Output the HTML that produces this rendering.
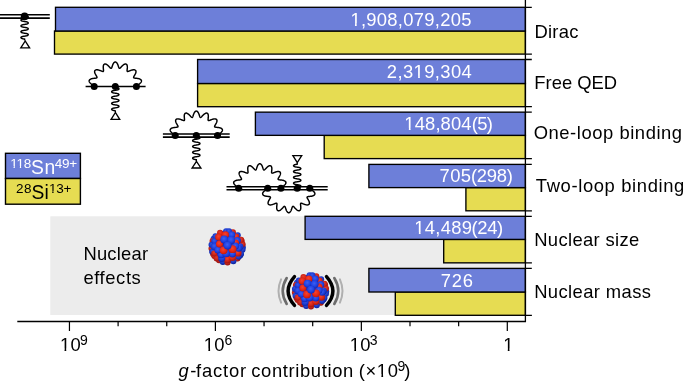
<!DOCTYPE html>
<html><head><meta charset="utf-8"><title>g-factor contributions</title>
<style>html,body{margin:0;padding:0;background:#fff;width:685px;height:382px;overflow:hidden;font-family:"Liberation Sans",sans-serif}</style></head>
<body>
<svg width="685" height="382" viewBox="0 0 685 382" style="position:absolute;left:0;top:0;will-change:transform">
<defs>
<radialGradient id="gb" cx="0.45" cy="0.38" r="0.65"><stop offset="0" stop-color="#3d5ff2"/><stop offset="0.6" stop-color="#1f41e2"/><stop offset="1" stop-color="#0f27b4"/></radialGradient>
<radialGradient id="gr" cx="0.45" cy="0.38" r="0.65"><stop offset="0" stop-color="#f5432e"/><stop offset="0.6" stop-color="#e62614"/><stop offset="1" stop-color="#b8180c"/></radialGradient>
<radialGradient id="gs" cx="0.5" cy="0.45" r="0.55"><stop offset="0.6" stop-color="#000020" stop-opacity="0"/><stop offset="1" stop-color="#000020" stop-opacity="0.25"/></radialGradient>
<clipPath id="nc"><circle cx="13.09" cy="8.67" r="3.0"/><circle cx="-15.61" cy="1.71" r="3.0"/><circle cx="-13.49" cy="-8.04" r="3.0"/><circle cx="-13.99" cy="7.13" r="3.0"/><circle cx="15.69" cy="0.53" r="3.0"/><circle cx="-14.56" cy="-5.86" r="3.0"/><circle cx="-14.94" cy="4.83" r="3.0"/><circle cx="-15.57" cy="-1.98" r="3.0"/><circle cx="14.60" cy="-5.78" r="3.0"/><circle cx="10.34" cy="11.82" r="3.0"/><circle cx="15.42" cy="2.97" r="3.0"/><circle cx="15.51" cy="-2.43" r="3.0"/><circle cx="-12.74" cy="9.18" r="3.0"/><circle cx="10.62" cy="-11.56" r="3.0"/><circle cx="6.25" cy="14.40" r="3.0"/><circle cx="-11.66" cy="-10.52" r="3.0"/><circle cx="-8.06" cy="13.47" r="3.0"/><circle cx="13.95" cy="7.21" r="3.0"/><circle cx="-0.96" cy="-15.67" r="3.0"/><circle cx="-4.30" cy="15.10" r="3.0"/><circle cx="0.48" cy="15.69" r="3.0"/><circle cx="-7.06" cy="-14.02" r="3.0"/><circle cx="14.00" cy="-7.10" r="3.0"/><circle cx="-10.45" cy="11.72" r="3.0"/><circle cx="5.81" cy="-14.58" r="3.0"/><circle cx="1.87" cy="-15.59" r="3.0"/><circle cx="11.60" cy="10.00" r="3.0"/><circle cx="-12.90" cy="6.60" r="3.0"/><circle cx="-12.90" cy="-5.70" r="3.0"/><circle cx="9.10" cy="-10.40" r="3.0"/><circle cx="-8.50" cy="-9.80" r="3.5"/><circle cx="0.30" cy="12.90" r="3.5"/><circle cx="-12.90" cy="-0.20" r="3.5"/><circle cx="12.90" cy="0.00" r="3.5"/><circle cx="4.70" cy="-12.00" r="3.5"/><circle cx="-5.40" cy="11.70" r="3.5"/><circle cx="11.00" cy="6.30" r="3.5"/><circle cx="-1.60" cy="-12.00" r="3.5"/><circle cx="10.30" cy="-6.30" r="3.5"/><circle cx="5.30" cy="10.70" r="3.5"/><circle cx="11.60" cy="1.40" r="3.5"/><circle cx="-6.00" cy="7.90" r="3.5"/><circle cx="-9.20" cy="3.20" r="3.5"/><circle cx="8.50" cy="-3.80" r="3.5"/><circle cx="5.30" cy="7.10" r="3.5"/><circle cx="8.50" cy="-0.70" r="3.5"/><circle cx="-7.60" cy="-2.90" r="3.5"/><circle cx="-2.90" cy="-7.30" r="3.9"/><circle cx="4.10" cy="-6.60" r="3.9"/><circle cx="-1.00" cy="6.60" r="3.9"/><circle cx="5.50" cy="2.40" r="3.9"/><circle cx="-3.50" cy="3.50" r="3.9"/><circle cx="0.50" cy="-1.30" r="3.9"/></clipPath>
</defs>
<rect x="0" y="0" width="685" height="382" fill="#fff"/>
<rect x="50.3" y="216.3" width="475" height="98.7" fill="#ececec"/>
<rect x="54.5" y="31.0" width="470.9" height="23.1" fill="#e6dc52" stroke="#000" stroke-width="1.35"/>
<rect x="55.5" y="7.3" width="469.9" height="23.7" fill="#6d7fd9" stroke="#000" stroke-width="1.35"/>
<path d="M525.4 7.3H531.8M525.4 54.15H531.9" stroke="#000" stroke-width="1.35" fill="none"/>
<rect x="197.6" y="83.5" width="327.8" height="23.2" fill="#e6dc52" stroke="#000" stroke-width="1.35"/>
<rect x="197.6" y="59.5" width="327.8" height="24.0" fill="#6d7fd9" stroke="#000" stroke-width="1.35"/>
<path d="M525.4 59.5H531.8M525.4 106.65H531.9" stroke="#000" stroke-width="1.35" fill="none"/>
<rect x="324.2" y="135.4" width="201.2" height="23.2" fill="#e6dc52" stroke="#000" stroke-width="1.35"/>
<rect x="255.4" y="112.15" width="270.0" height="23.2" fill="#6d7fd9" stroke="#000" stroke-width="1.35"/>
<path d="M525.4 112.15H531.8M525.4 158.6H531.9" stroke="#000" stroke-width="1.35" fill="none"/>
<rect x="465.9" y="187.6" width="59.5" height="23.2" fill="#e6dc52" stroke="#000" stroke-width="1.35"/>
<rect x="368.9" y="164.4" width="156.5" height="23.2" fill="#6d7fd9" stroke="#000" stroke-width="1.35"/>
<path d="M525.4 164.4H531.8M525.4 210.8H531.9" stroke="#000" stroke-width="1.35" fill="none"/>
<rect x="443.7" y="239.45" width="81.7" height="23.4" fill="#e6dc52" stroke="#000" stroke-width="1.35"/>
<rect x="305.1" y="216.3" width="220.3" height="23.1" fill="#6d7fd9" stroke="#000" stroke-width="1.35"/>
<path d="M525.4 216.3H531.8M525.4 262.9H531.9" stroke="#000" stroke-width="1.35" fill="none"/>
<rect x="395.3" y="292.0" width="130.1" height="23.3" fill="#e6dc52" stroke="#000" stroke-width="1.35"/>
<rect x="368.9" y="268.4" width="156.5" height="23.6" fill="#6d7fd9" stroke="#000" stroke-width="1.35"/>
<path d="M525.4 268.4H531.8M525.4 315.3H531.9" stroke="#000" stroke-width="1.35" fill="none"/>
<path d="M525.4 0V321.5" stroke="#000" stroke-width="1.3" fill="none"/>
<path d="M17.3 321.5H526.05" stroke="#000" stroke-width="1.3" fill="none"/>
<path d="M69.45 321.5v9.4M118.10 321.5v4.8M166.75 321.5v4.8M215.40 321.5v9.4M264.05 321.5v4.8M312.70 321.5v4.8M361.35 321.5v9.4M410.00 321.5v4.8M458.65 321.5v4.8M507.30 321.5v9.4" stroke="#000" stroke-width="1.2" fill="none"/>
<path d="M0 14.8H49.8M0 18.1H49.8" stroke="#000" stroke-width="1.55" fill="none" stroke-linejoin="miter" stroke-linecap="butt"/>
<path d="M27.66 16.40L27.86 16.52L28.02 16.66L28.14 16.80L28.21 16.94L28.25 17.09L28.24 17.23L28.18 17.38L28.09 17.52L27.95 17.66L27.77 17.78L27.55 17.91L27.30 18.02L27.01 18.12L26.70 18.21L26.36 18.29L26.00 18.37L25.62 18.43L25.23 18.50L24.83 18.55L24.43 18.61L24.03 18.67L23.64 18.73L23.26 18.80L22.90 18.87L22.56 18.95L22.24 19.04L21.95 19.14L21.69 19.25L21.46 19.37L21.28 19.50L21.13 19.63L21.03 19.77L20.97 19.92L20.95 20.06L20.98 20.21L21.05 20.36L21.16 20.50L21.31 20.63L21.51 20.76L21.74 20.87L22.00 20.98L22.30 21.08L22.62 21.17L22.97 21.25L23.34 21.32L23.72 21.38L24.12 21.44L24.51 21.50L24.91 21.56L25.31 21.62L25.70 21.68L26.07 21.75L26.43 21.82L26.76 21.91L27.07 22.00L27.35 22.10L27.60 22.22L27.81 22.34L27.98 22.47L28.11 22.61L28.20 22.75L28.24 22.90L28.25 23.04L28.20 23.19L28.12 23.33L27.99 23.47L27.82 23.60L27.61 23.72L27.37 23.84L27.09 23.94L26.78 24.04L26.45 24.12L26.09 24.20L25.72 24.27L25.33 24.33L24.94 24.39L24.54 24.45L24.14 24.50L23.75 24.56L23.36 24.63L22.99 24.70L22.64 24.78L22.32 24.87L22.02 24.96L21.75 25.07L21.52 25.19L21.32 25.31L21.17 25.45L21.05 25.59L20.98 25.73L20.95 25.88L20.97 26.02L21.02 26.17L21.13 26.31L21.27 26.45L21.45 26.57L21.67 26.69L21.93 26.80L22.22 26.90L22.54 26.99L22.88 27.08L23.24 27.15L23.62 27.22L24.01 27.28L24.41 27.34L24.81 27.39L25.21 27.45L25.60 27.51L25.98 27.58L26.34 27.65L26.68 27.74L27.00 27.83L27.28 27.93L27.54 28.04L27.76 28.16L27.94 28.29L28.08 28.42L28.18 28.56L28.24 28.71L28.25 28.86L28.22 29.00L28.14 29.15L28.03 29.29L27.87 29.42L27.67 29.54L27.44 29.66L27.17 29.77L26.87 29.86L26.54 29.95L26.19 30.03L25.82 30.10L25.44 30.16L25.04 30.22L24.64 30.28L24.24 30.34L23.85 30.40L23.46 30.46L23.09 30.53L22.73 30.61L22.40 30.69L22.10 30.79L21.82 30.89L21.58 31.01L21.37 31.13L21.20 31.26L21.08 31.40L20.99 31.54L20.95 31.69L20.96 31.83L21.00 31.98L21.09 32.12L21.23 32.26L21.40 32.39L21.61 32.51L21.86 32.63L22.14 32.73L22.45 32.82L22.79 32.91L23.14 32.98L23.52 33.05L23.91 33.11L24.30 33.17L24.70 33.23L25.10 33.29L25.50 33.35L25.88 33.41L26.25 33.48L26.59 33.56L26.92 33.65L27.21 33.75L27.47 33.86L27.70 33.98L27.89 34.10L28.05 34.24L28.16 34.38L28.23 34.52L28.25 34.67L28.23 34.81L28.17 34.96L28.06 35.10L27.91 35.23L27.73 35.36L27.50 35.48L27.24 35.59L26.95 35.69L26.63 35.78L26.28 35.86L25.92 35.93L25.54 36.00L25.15 36.06L24.75 36.12L24.35 36.17L23.95 36.23L23.56 36.29L23.18 36.36L22.82 36.44L22.49 36.52L22.17 36.61L21.89 36.71L21.64 36.83L21.42 36.95L21.24 37.08L21.11 37.21L21.01 37.35L20.96 37.50L20.95 37.65L20.99 37.79L21.07 37.94L21.19 38.07L21.35 38.21L21.55 38.33L21.79 38.45L22.06 38.55L22.37 38.65L22.70 38.73L23.05 38.81L23.42 38.88L23.81 38.95L24.20 39.00L24.60 39.06L24.60 40.60" stroke="#000" stroke-width="1.45" fill="none" stroke-linejoin="miter" stroke-linecap="butt"/>
<path d="M25.20 41.00L20.80 47.90H29.60Z" stroke="#000" stroke-width="1.35" fill="#fff" stroke-linejoin="miter" stroke-linecap="butt"/>
<circle cx="24.6" cy="16.4" r="3.85" fill="#000"/>
<path d="M85.6 86.5H145.6" stroke="#000" stroke-width="1.6" fill="none" stroke-linejoin="miter" stroke-linecap="butt"/>
<path d="M94.40 86.50L94.37 86.32L94.28 86.14L94.12 85.95L93.92 85.76L93.66 85.55L93.35 85.34L93.01 85.11L92.64 84.87L92.24 84.61L91.84 84.34L91.43 84.05L91.03 83.74L90.65 83.43L90.29 83.10L89.97 82.76L89.70 82.41L89.47 82.06L89.30 81.71L89.19 81.36L89.15 81.02L89.18 80.68L89.27 80.37L89.43 80.07L89.65 79.79L89.94 79.53L90.28 79.30L90.67 79.09L91.10 78.91L91.56 78.76L92.05 78.63L92.56 78.52L93.07 78.44L93.59 78.37L94.09 78.31L94.57 78.26L95.03 78.22L95.45 78.17L95.83 78.12L96.16 78.06L96.44 77.98L96.66 77.89L96.83 77.77L96.94 77.63L97.00 77.46L97.00 77.27L96.95 77.04L96.86 76.78L96.72 76.50L96.54 76.18L96.34 75.84L96.12 75.47L95.89 75.08L95.66 74.67L95.43 74.24L95.21 73.81L95.02 73.38L94.86 72.94L94.73 72.52L94.65 72.10L94.62 71.71L94.63 71.34L94.70 71.00L94.83 70.70L95.01 70.44L95.24 70.21L95.53 70.04L95.86 69.91L96.24 69.82L96.65 69.78L97.09 69.79L97.56 69.83L98.05 69.92L98.55 70.03L99.05 70.17L99.54 70.33L100.03 70.51L100.50 70.68L100.95 70.86L101.37 71.02L101.76 71.17L102.11 71.29L102.43 71.39L102.70 71.44L102.94 71.46L103.13 71.43L103.28 71.35L103.39 71.22L103.46 71.04L103.51 70.82L103.52 70.54L103.51 70.22L103.48 69.86L103.44 69.46L103.39 69.04L103.34 68.59L103.30 68.12L103.27 67.64L103.26 67.16L103.26 66.69L103.30 66.23L103.36 65.80L103.46 65.40L103.59 65.04L103.75 64.72L103.96 64.45L104.19 64.24L104.46 64.09L104.75 63.99L105.08 63.96L105.42 63.99L105.78 64.08L106.16 64.23L106.54 64.43L106.93 64.67L107.32 64.96L107.70 65.27L108.08 65.61L108.44 65.97L108.79 66.33L109.13 66.68L109.44 67.02L109.74 67.34L110.01 67.63L110.26 67.88L110.49 68.08L110.70 68.24L110.89 68.33L111.07 68.37L111.23 68.35L111.37 68.26L111.51 68.11L111.63 67.91L111.76 67.65L111.88 67.34L112.00 66.98L112.13 66.59L112.26 66.17L112.41 65.72L112.57 65.27L112.74 64.81L112.93 64.36L113.13 63.92L113.36 63.51L113.60 63.14L113.85 62.81L114.12 62.53L114.41 62.30L114.70 62.13L115.00 62.03L115.30 62.00L115.60 62.03L115.90 62.13L116.19 62.30L116.48 62.53L116.75 62.81L117.00 63.14L117.24 63.51L117.47 63.92L117.67 64.36L117.86 64.81L118.03 65.27L118.19 65.72L118.34 66.17L118.47 66.59L118.60 66.98L118.72 67.34L118.84 67.65L118.97 67.91L119.09 68.11L119.23 68.26L119.37 68.35L119.53 68.37L119.71 68.33L119.90 68.24L120.11 68.08L120.34 67.88L120.59 67.63L120.86 67.34L121.16 67.02L121.47 66.68L121.81 66.33L122.16 65.97L122.52 65.61L122.90 65.27L123.28 64.96L123.67 64.67L124.06 64.43L124.44 64.23L124.82 64.08L125.18 63.99L125.52 63.96L125.85 63.99L126.14 64.09L126.41 64.24L126.64 64.45L126.85 64.72L127.01 65.04L127.14 65.40L127.24 65.80L127.30 66.23L127.34 66.69L127.34 67.16L127.33 67.64L127.30 68.12L127.26 68.59L127.21 69.04L127.16 69.46L127.12 69.86L127.09 70.22L127.08 70.54L127.09 70.82L127.14 71.04L127.21 71.22L127.32 71.35L127.47 71.43L127.66 71.46L127.90 71.44L128.17 71.39L128.49 71.29L128.84 71.17L129.23 71.02L129.65 70.86L130.10 70.68L130.57 70.51L131.06 70.33L131.55 70.17L132.05 70.03L132.55 69.92L133.04 69.83L133.51 69.79L133.95 69.78L134.36 69.82L134.74 69.91L135.07 70.04L135.36 70.21L135.59 70.44L135.77 70.70L135.90 71.00L135.97 71.34L135.98 71.71L135.95 72.10L135.87 72.52L135.74 72.94L135.58 73.38L135.39 73.81L135.17 74.24L134.94 74.67L134.71 75.08L134.48 75.47L134.26 75.84L134.06 76.18L133.88 76.50L133.74 76.78L133.65 77.04L133.60 77.27L133.60 77.46L133.66 77.63L133.77 77.77L133.94 77.89L134.16 77.98L134.44 78.06L134.77 78.12L135.15 78.17L135.57 78.22L136.03 78.26L136.51 78.31L137.01 78.37L137.53 78.44L138.04 78.52L138.55 78.63L139.04 78.76L139.50 78.91L139.93 79.09L140.32 79.30L140.66 79.53L140.95 79.79L141.17 80.07L141.33 80.37L141.42 80.68L141.45 81.02L141.41 81.36L141.30 81.71L141.13 82.06L140.90 82.41L140.63 82.76L140.31 83.10L139.95 83.43L139.57 83.74L139.17 84.05L138.76 84.34L138.36 84.61L137.96 84.87L137.59 85.11L137.25 85.34L136.94 85.55L136.68 85.76L136.48 85.95L136.32 86.14L136.23 86.32L136.20 86.50" stroke="#000" stroke-width="1.45" fill="none" stroke-linejoin="miter" stroke-linecap="butt"/>
<path d="M112.04 86.50L112.25 86.63L112.51 86.76L112.81 86.87L113.15 86.97L113.52 87.06L113.91 87.14L114.32 87.22L114.74 87.28L115.18 87.34L115.61 87.41L116.04 87.47L116.46 87.54L116.87 87.62L117.25 87.70L117.60 87.80L117.92 87.90L118.20 88.02L118.45 88.15L118.64 88.29L118.79 88.44L118.90 88.59L118.94 88.75L118.94 88.91L118.89 89.07L118.78 89.22L118.63 89.37L118.43 89.51L118.18 89.64L117.89 89.76L117.57 89.86L117.21 89.96L116.83 90.04L116.42 90.12L116.00 90.18L115.57 90.25L115.14 90.31L114.70 90.37L114.28 90.44L113.87 90.51L113.48 90.60L113.12 90.69L112.78 90.79L112.49 90.91L112.23 91.03L112.02 91.17L111.85 91.31L111.73 91.47L111.67 91.62L111.65 91.78L111.69 91.94L111.78 92.10L111.91 92.25L112.10 92.39L112.33 92.52L112.61 92.64L112.92 92.75L113.26 92.85L113.64 92.94L114.04 93.02L114.45 93.09L114.88 93.15L115.32 93.21L115.75 93.28L116.18 93.34L116.59 93.41L116.99 93.49L117.36 93.58L117.71 93.68L118.02 93.79L118.29 93.91L118.52 94.05L118.70 94.19L118.83 94.34L118.92 94.49L118.95 94.65L118.93 94.81L118.86 94.97L118.74 95.12L118.57 95.27L118.35 95.40L118.09 95.53L117.79 95.64L117.46 95.74L117.09 95.83L116.70 95.92L116.29 95.99L115.86 96.06L115.43 96.12L115.00 96.18L114.57 96.25L114.15 96.31L113.74 96.39L113.36 96.47L113.01 96.57L112.68 96.68L112.40 96.79L112.16 96.92L111.96 97.06L111.81 97.21L111.71 97.37L111.66 97.52L111.66 97.68L111.71 97.84L111.81 98.00L111.97 98.14L112.17 98.28L112.42 98.41L112.70 98.53L113.03 98.64L113.38 98.73L113.76 98.81L114.17 98.89L114.59 98.96L115.02 99.02L115.46 99.08L115.89 99.15L116.31 99.22L116.72 99.29L117.11 99.37L117.48 99.46L117.81 99.56L118.11 99.68L118.37 99.80L118.58 99.94L118.75 100.09L118.87 100.24L118.93 100.40L118.95 100.56L118.91 100.71L118.83 100.87L118.69 101.02L118.50 101.16L118.27 101.29L118.00 101.42L117.69 101.53L117.34 101.62L116.97 101.71L116.57 101.79L116.15 101.86L115.73 101.93L115.29 101.99L114.86 102.05L114.43 102.12L114.01 102.19L113.62 102.27L113.24 102.35L112.90 102.45L112.59 102.56L112.32 102.69L112.09 102.82L111.90 102.96L111.77 103.11L111.68 103.27L111.65 103.43L111.67 103.59L111.74 103.74L111.86 103.90L112.03 104.04L112.24 104.18L112.50 104.30L112.80 104.41L113.14 104.52L113.50 104.61L113.89 104.69L114.30 104.76L114.73 104.83L115.16 104.89L115.60 104.95L116.03 105.02L116.45 105.09L116.85 105.16L117.23 105.25L117.59 105.34L117.91 105.45L118.19 105.57L118.44 105.70L118.64 105.84L118.79 105.98L118.89 106.14L118.94 106.30L118.94 106.46L118.89 106.61L118.79 106.77L118.63 106.92L118.43 107.06L118.19 107.18L117.90 107.30L117.58 107.41L117.23 107.50L116.84 107.59L116.44 107.66L116.02 107.73L115.59 107.80L115.15 107.86L114.72 107.92L114.29 107.99L113.88 108.06L113.49 108.14L113.13 108.23L112.80 108.34L112.50 108.45L112.24 108.58L112.02 108.71L111.86 108.86L111.74 109.01L111.67 109.17L111.65 109.33L111.69 109.49L111.77 109.64L111.91 109.79L112.09 109.93L112.32 110.07L112.59 110.19L112.91 110.30L113.25 110.40L113.62 110.49L114.02 110.56L114.44 110.63L114.87 110.70L115.30 110.76L115.30 112.30" stroke="#000" stroke-width="1.45" fill="none" stroke-linejoin="miter" stroke-linecap="butt"/>
<path d="M115.40 112.50L111.10 119.30H119.70Z" stroke="#000" stroke-width="1.35" fill="#fff" stroke-linejoin="miter" stroke-linecap="butt"/>
<circle cx="94.2" cy="86.5" r="3.5" fill="#000"/>
<circle cx="115.3" cy="86.5" r="3.5" fill="#000"/>
<circle cx="136.4" cy="86.5" r="3.5" fill="#000"/>
<path d="M162.9 134H229.7M162.9 137.1H229.7" stroke="#000" stroke-width="1.55" fill="none" stroke-linejoin="miter" stroke-linecap="butt"/>
<path d="M175.40 135.60L175.37 135.42L175.28 135.24L175.12 135.05L174.92 134.86L174.66 134.65L174.35 134.44L174.01 134.21L173.64 133.97L173.24 133.71L172.84 133.44L172.43 133.15L172.03 132.84L171.65 132.53L171.29 132.20L170.97 131.86L170.70 131.51L170.47 131.16L170.30 130.81L170.19 130.46L170.15 130.12L170.18 129.78L170.27 129.47L170.43 129.17L170.65 128.89L170.94 128.63L171.28 128.40L171.67 128.19L172.10 128.01L172.56 127.86L173.05 127.73L173.56 127.62L174.07 127.54L174.59 127.47L175.09 127.41L175.57 127.36L176.03 127.32L176.45 127.27L176.83 127.22L177.16 127.16L177.44 127.08L177.66 126.99L177.83 126.87L177.94 126.73L178.00 126.56L178.00 126.37L177.95 126.14L177.86 125.88L177.72 125.60L177.54 125.28L177.34 124.94L177.12 124.57L176.89 124.18L176.66 123.77L176.43 123.34L176.21 122.91L176.02 122.48L175.86 122.04L175.73 121.62L175.65 121.20L175.62 120.81L175.63 120.44L175.70 120.10L175.83 119.80L176.01 119.54L176.24 119.31L176.53 119.14L176.86 119.01L177.24 118.92L177.65 118.88L178.09 118.89L178.56 118.93L179.05 119.02L179.55 119.13L180.05 119.27L180.54 119.43L181.03 119.61L181.50 119.78L181.95 119.96L182.37 120.12L182.76 120.27L183.11 120.39L183.43 120.49L183.70 120.54L183.94 120.56L184.13 120.53L184.28 120.45L184.39 120.32L184.46 120.14L184.51 119.92L184.52 119.64L184.51 119.32L184.48 118.96L184.44 118.56L184.39 118.14L184.34 117.69L184.30 117.22L184.27 116.74L184.26 116.26L184.26 115.79L184.30 115.33L184.36 114.90L184.46 114.50L184.59 114.14L184.75 113.82L184.96 113.55L185.19 113.34L185.46 113.19L185.75 113.09L186.08 113.06L186.42 113.09L186.78 113.18L187.16 113.33L187.54 113.53L187.93 113.77L188.32 114.06L188.70 114.37L189.08 114.71L189.44 115.07L189.79 115.43L190.13 115.78L190.44 116.12L190.74 116.44L191.01 116.73L191.26 116.98L191.49 117.18L191.70 117.34L191.89 117.43L192.07 117.47L192.23 117.45L192.37 117.36L192.51 117.21L192.63 117.01L192.76 116.75L192.88 116.44L193.00 116.08L193.13 115.69L193.26 115.27L193.41 114.82L193.57 114.37L193.74 113.91L193.93 113.46L194.13 113.02L194.36 112.61L194.60 112.24L194.85 111.91L195.12 111.63L195.41 111.40L195.70 111.23L196.00 111.13L196.30 111.10L196.60 111.13L196.90 111.23L197.19 111.40L197.48 111.63L197.75 111.91L198.00 112.24L198.24 112.61L198.47 113.02L198.67 113.46L198.86 113.91L199.03 114.37L199.19 114.82L199.34 115.27L199.47 115.69L199.60 116.08L199.72 116.44L199.84 116.75L199.97 117.01L200.09 117.21L200.23 117.36L200.37 117.45L200.53 117.47L200.71 117.43L200.90 117.34L201.11 117.18L201.34 116.98L201.59 116.73L201.86 116.44L202.16 116.12L202.47 115.78L202.81 115.43L203.16 115.07L203.52 114.71L203.90 114.37L204.28 114.06L204.67 113.77L205.06 113.53L205.44 113.33L205.82 113.18L206.18 113.09L206.52 113.06L206.85 113.09L207.14 113.19L207.41 113.34L207.64 113.55L207.85 113.82L208.01 114.14L208.14 114.50L208.24 114.90L208.30 115.33L208.34 115.79L208.34 116.26L208.33 116.74L208.30 117.22L208.26 117.69L208.21 118.14L208.16 118.56L208.12 118.96L208.09 119.32L208.08 119.64L208.09 119.92L208.14 120.14L208.21 120.32L208.32 120.45L208.47 120.53L208.66 120.56L208.90 120.54L209.17 120.49L209.49 120.39L209.84 120.27L210.23 120.12L210.65 119.96L211.10 119.78L211.57 119.61L212.06 119.43L212.55 119.27L213.05 119.13L213.55 119.02L214.04 118.93L214.51 118.89L214.95 118.88L215.36 118.92L215.74 119.01L216.07 119.14L216.36 119.31L216.59 119.54L216.77 119.80L216.90 120.10L216.97 120.44L216.98 120.81L216.95 121.20L216.87 121.62L216.74 122.04L216.58 122.48L216.39 122.91L216.17 123.34L215.94 123.77L215.71 124.18L215.48 124.57L215.26 124.94L215.06 125.28L214.88 125.60L214.74 125.88L214.65 126.14L214.60 126.37L214.60 126.56L214.66 126.73L214.77 126.87L214.94 126.99L215.16 127.08L215.44 127.16L215.77 127.22L216.15 127.27L216.57 127.32L217.03 127.36L217.51 127.41L218.01 127.47L218.53 127.54L219.04 127.62L219.55 127.73L220.04 127.86L220.50 128.01L220.93 128.19L221.32 128.40L221.66 128.63L221.95 128.89L222.17 129.17L222.33 129.47L222.42 129.78L222.45 130.12L222.41 130.46L222.30 130.81L222.13 131.16L221.90 131.51L221.63 131.86L221.31 132.20L220.95 132.53L220.57 132.84L220.17 133.15L219.76 133.44L219.36 133.71L218.96 133.97L218.59 134.21L218.25 134.44L217.94 134.65L217.68 134.86L217.48 135.05L217.32 135.24L217.23 135.42L217.20 135.60" stroke="#000" stroke-width="1.45" fill="none" stroke-linejoin="miter" stroke-linecap="butt"/>
<path d="M193.38 135.60L193.66 135.71L193.98 135.82L194.32 135.92L194.70 136.00L195.10 136.08L195.52 136.15L195.94 136.21L196.37 136.27L196.81 136.34L197.23 136.40L197.64 136.47L198.03 136.55L198.40 136.64L198.74 136.74L199.04 136.85L199.31 136.97L199.53 137.11L199.71 137.25L199.84 137.40L199.92 137.55L199.95 137.71L199.93 137.87L199.86 138.03L199.74 138.18L199.57 138.32L199.35 138.45L199.09 138.58L198.79 138.69L198.46 138.79L198.10 138.88L197.71 138.96L197.30 139.04L196.88 139.10L196.45 139.17L196.02 139.23L195.59 139.29L195.17 139.36L194.77 139.43L194.39 139.52L194.04 139.61L193.71 139.72L193.43 139.83L193.18 139.96L192.98 140.10L192.82 140.24L192.72 140.40L192.66 140.55L192.65 140.71L192.70 140.87L192.80 141.02L192.94 141.17L193.13 141.31L193.37 141.44L193.65 141.56L193.96 141.67L194.31 141.76L194.68 141.85L195.08 141.92L195.50 141.99L195.92 142.06L196.36 142.12L196.79 142.18L197.21 142.25L197.62 142.32L198.01 142.40L198.38 142.49L198.72 142.59L199.03 142.70L199.30 142.82L199.52 142.95L199.70 143.09L199.83 143.24L199.92 143.40L199.95 143.55L199.93 143.71L199.86 143.87L199.74 144.02L199.57 144.16L199.36 144.30L199.10 144.42L198.81 144.54L198.48 144.64L198.11 144.73L197.73 144.81L197.32 144.88L196.90 144.95L196.47 145.01L196.04 145.08L195.61 145.14L195.19 145.21L194.79 145.28L194.41 145.36L194.05 145.46L193.73 145.56L193.44 145.68L193.19 145.80L192.99 145.94L192.83 146.09L192.72 146.24L192.66 146.40L192.65 146.56L192.70 146.71L192.79 146.87L192.93 147.02L193.12 147.15L193.36 147.29L193.63 147.40L193.95 147.51L194.29 147.61L194.67 147.69L195.06 147.77L195.48 147.84L195.91 147.91L196.34 147.97L196.77 148.03L197.19 148.10L197.60 148.17L198.00 148.24L198.37 148.33L198.71 148.43L199.02 148.54L199.29 148.66L199.51 148.79L199.69 148.93L199.83 149.08L199.91 149.24L199.95 149.40L199.93 149.56L199.87 149.71L199.75 149.86L199.58 150.01L199.37 150.14L199.11 150.27L198.82 150.38L198.49 150.48L198.13 150.58L197.74 150.66L197.34 150.73L196.92 150.80L196.49 150.86L196.06 150.92L195.63 150.99L195.21 151.05L194.80 151.13L194.42 151.21L194.06 151.30L193.74 151.41L193.45 151.52L193.20 151.65L192.99 151.79L192.83 151.93L192.72 152.08L192.66 152.24L192.65 152.40L192.69 152.56L192.79 152.71L192.93 152.86L193.11 153.00L193.35 153.13L193.62 153.25L193.93 153.36L194.28 153.45L194.65 153.54L195.05 153.62L195.46 153.69L195.89 153.75L196.32 153.82L196.75 153.88L197.17 153.94L197.59 154.01L197.98 154.09L198.35 154.18L198.70 154.28L199.00 154.39L199.27 154.51L199.50 154.64L199.69 154.78L199.82 154.93L199.91 155.08L199.95 155.24L199.93 155.40L199.87 155.56L199.75 155.71L199.59 155.85L199.38 155.99L199.13 156.11L198.83 156.23L198.51 156.33L198.15 156.42L197.76 156.50L197.36 156.58L196.94 156.64L196.51 156.71L196.07 156.77L195.65 156.83L195.23 156.90L194.82 156.97L194.44 157.06L194.08 157.15L193.75 157.25L193.46 157.37L193.21 157.49L193.00 157.63L192.84 157.77L192.73 157.93L192.66 158.08L192.65 158.24L192.69 158.40L192.78 158.55L192.92 158.70L193.11 158.84L193.34 158.97L193.61 159.09L193.92 159.20L194.26 159.30L194.63 159.39L195.03 159.47L195.44 159.54L195.87 159.60L196.30 159.66L196.30 161.20" stroke="#000" stroke-width="1.45" fill="none" stroke-linejoin="miter" stroke-linecap="butt"/>
<path d="M196.50 161.40L192.10 168.00H200.90Z" stroke="#000" stroke-width="1.35" fill="#fff" stroke-linejoin="miter" stroke-linecap="butt"/>
<circle cx="175.2" cy="135.6" r="3.5" fill="#000"/>
<circle cx="196.3" cy="135.6" r="3.5" fill="#000"/>
<circle cx="217.5" cy="135.6" r="3.5" fill="#000"/>
<path d="M226.5 186.65H327.7M226.5 189.8H327.7" stroke="#000" stroke-width="1.55" fill="none" stroke-linejoin="miter" stroke-linecap="butt"/>
<path d="M238.90 188.20L238.87 188.02L238.78 187.84L238.62 187.65L238.42 187.46L238.16 187.25L237.85 187.04L237.51 186.81L237.14 186.57L236.74 186.31L236.34 186.04L235.93 185.75L235.53 185.44L235.15 185.13L234.79 184.80L234.47 184.46L234.20 184.11L233.97 183.76L233.80 183.41L233.69 183.06L233.65 182.72L233.68 182.38L233.77 182.07L233.93 181.77L234.15 181.49L234.44 181.23L234.78 181.00L235.17 180.79L235.60 180.61L236.06 180.46L236.55 180.33L237.06 180.22L237.57 180.14L238.09 180.07L238.59 180.01L239.07 179.96L239.53 179.92L239.95 179.87L240.33 179.82L240.66 179.76L240.94 179.68L241.16 179.59L241.33 179.47L241.44 179.33L241.50 179.16L241.50 178.97L241.45 178.74L241.36 178.48L241.22 178.20L241.04 177.88L240.84 177.54L240.62 177.17L240.39 176.78L240.16 176.37L239.93 175.94L239.71 175.51L239.52 175.08L239.36 174.64L239.23 174.22L239.15 173.80L239.12 173.41L239.13 173.04L239.20 172.70L239.33 172.40L239.51 172.14L239.74 171.91L240.03 171.74L240.36 171.61L240.74 171.52L241.15 171.48L241.59 171.49L242.06 171.53L242.55 171.62L243.05 171.73L243.55 171.87L244.04 172.03L244.53 172.21L245.00 172.38L245.45 172.56L245.87 172.72L246.26 172.87L246.61 172.99L246.93 173.09L247.20 173.14L247.44 173.16L247.63 173.13L247.78 173.05L247.89 172.92L247.96 172.74L248.01 172.52L248.02 172.24L248.01 171.92L247.98 171.56L247.94 171.16L247.89 170.74L247.84 170.29L247.80 169.82L247.77 169.34L247.76 168.86L247.76 168.39L247.80 167.93L247.86 167.50L247.96 167.10L248.09 166.74L248.25 166.42L248.46 166.15L248.69 165.94L248.96 165.79L249.25 165.69L249.58 165.66L249.92 165.69L250.28 165.78L250.66 165.93L251.04 166.13L251.43 166.37L251.82 166.66L252.20 166.97L252.58 167.31L252.94 167.67L253.29 168.03L253.63 168.38L253.94 168.72L254.24 169.04L254.51 169.33L254.76 169.58L254.99 169.78L255.20 169.94L255.39 170.03L255.57 170.07L255.73 170.05L255.87 169.96L256.01 169.81L256.13 169.61L256.26 169.35L256.38 169.04L256.50 168.68L256.63 168.29L256.76 167.87L256.91 167.42L257.07 166.97L257.24 166.51L257.43 166.06L257.63 165.62L257.86 165.21L258.10 164.84L258.35 164.51L258.62 164.23L258.91 164.00L259.20 163.83L259.50 163.73L259.80 163.70L260.10 163.73L260.40 163.83L260.69 164.00L260.98 164.23L261.25 164.51L261.50 164.84L261.74 165.21L261.97 165.62L262.17 166.06L262.36 166.51L262.53 166.97L262.69 167.42L262.84 167.87L262.97 168.29L263.10 168.68L263.22 169.04L263.34 169.35L263.47 169.61L263.59 169.81L263.73 169.96L263.87 170.05L264.03 170.07L264.21 170.03L264.40 169.94L264.61 169.78L264.84 169.58L265.09 169.33L265.36 169.04L265.66 168.72L265.97 168.38L266.31 168.03L266.66 167.67L267.02 167.31L267.40 166.97L267.78 166.66L268.17 166.37L268.56 166.13L268.94 165.93L269.32 165.78L269.68 165.69L270.02 165.66L270.35 165.69L270.64 165.79L270.91 165.94L271.14 166.15L271.35 166.42L271.51 166.74L271.64 167.10L271.74 167.50L271.80 167.93L271.84 168.39L271.84 168.86L271.83 169.34L271.80 169.82L271.76 170.29L271.71 170.74L271.66 171.16L271.62 171.56L271.59 171.92L271.58 172.24L271.59 172.52L271.64 172.74L271.71 172.92L271.82 173.05L271.97 173.13L272.16 173.16L272.40 173.14L272.67 173.09L272.99 172.99L273.34 172.87L273.73 172.72L274.15 172.56L274.60 172.38L275.07 172.21L275.56 172.03L276.05 171.87L276.55 171.73L277.05 171.62L277.54 171.53L278.01 171.49L278.45 171.48L278.86 171.52L279.24 171.61L279.57 171.74L279.86 171.91L280.09 172.14L280.27 172.40L280.40 172.70L280.47 173.04L280.48 173.41L280.45 173.80L280.37 174.22L280.24 174.64L280.08 175.08L279.89 175.51L279.67 175.94L279.44 176.37L279.21 176.78L278.98 177.17L278.76 177.54L278.56 177.88L278.38 178.20L278.24 178.48L278.15 178.74L278.10 178.97L278.10 179.16L278.16 179.33L278.27 179.47L278.44 179.59L278.66 179.68L278.94 179.76L279.27 179.82L279.65 179.87L280.07 179.92L280.53 179.96L281.01 180.01L281.51 180.07L282.03 180.14L282.54 180.22L283.05 180.33L283.54 180.46L284.00 180.61L284.43 180.79L284.82 181.00L285.16 181.23L285.45 181.49L285.67 181.77L285.83 182.07L285.92 182.38L285.95 182.72L285.91 183.06L285.80 183.41L285.63 183.76L285.40 184.11L285.13 184.46L284.81 184.80L284.45 185.13L284.07 185.44L283.67 185.75L283.26 186.04L282.86 186.31L282.46 186.57L282.09 186.81L281.75 187.04L281.44 187.25L281.18 187.46L280.98 187.65L280.82 187.84L280.73 188.02L280.70 188.20" stroke="#000" stroke-width="1.45" fill="none" stroke-linejoin="miter" stroke-linecap="butt"/>
<path d="M267.85 188.20L267.82 188.38L267.73 188.56L267.57 188.75L267.37 188.94L267.11 189.15L266.80 189.36L266.46 189.59L266.09 189.83L265.69 190.09L265.29 190.36L264.88 190.65L264.48 190.96L264.10 191.27L263.74 191.60L263.42 191.94L263.15 192.29L262.92 192.64L262.75 192.99L262.64 193.34L262.60 193.68L262.63 194.02L262.72 194.33L262.88 194.63L263.10 194.91L263.39 195.17L263.73 195.40L264.12 195.61L264.55 195.79L265.01 195.94L265.50 196.07L266.01 196.18L266.52 196.26L267.04 196.33L267.54 196.39L268.02 196.44L268.48 196.48L268.90 196.53L269.28 196.58L269.61 196.64L269.89 196.72L270.11 196.81L270.28 196.93L270.39 197.07L270.45 197.24L270.45 197.43L270.40 197.66L270.31 197.92L270.17 198.20L269.99 198.52L269.79 198.86L269.57 199.23L269.34 199.62L269.11 200.03L268.88 200.46L268.66 200.89L268.47 201.32L268.31 201.76L268.18 202.18L268.10 202.60L268.07 202.99L268.08 203.36L268.15 203.70L268.28 204.00L268.46 204.26L268.69 204.49L268.98 204.66L269.31 204.79L269.69 204.88L270.10 204.92L270.54 204.91L271.01 204.87L271.50 204.78L272.00 204.67L272.50 204.53L272.99 204.37L273.48 204.19L273.95 204.02L274.40 203.84L274.82 203.68L275.21 203.53L275.56 203.41L275.88 203.31L276.15 203.26L276.39 203.24L276.58 203.27L276.73 203.35L276.84 203.48L276.91 203.66L276.96 203.88L276.97 204.16L276.96 204.48L276.93 204.84L276.89 205.24L276.84 205.66L276.79 206.11L276.75 206.58L276.72 207.06L276.71 207.54L276.71 208.01L276.75 208.47L276.81 208.90L276.91 209.30L277.04 209.66L277.20 209.98L277.41 210.25L277.64 210.46L277.91 210.61L278.20 210.71L278.53 210.74L278.87 210.71L279.23 210.62L279.61 210.47L279.99 210.27L280.38 210.03L280.77 209.74L281.15 209.43L281.53 209.09L281.89 208.73L282.24 208.37L282.58 208.02L282.89 207.68L283.19 207.36L283.46 207.07L283.71 206.82L283.94 206.62L284.15 206.46L284.34 206.37L284.52 206.33L284.68 206.35L284.82 206.44L284.96 206.59L285.08 206.79L285.21 207.05L285.33 207.36L285.45 207.72L285.58 208.11L285.71 208.53L285.86 208.98L286.02 209.43L286.19 209.89L286.38 210.34L286.58 210.78L286.81 211.19L287.05 211.56L287.30 211.89L287.57 212.17L287.86 212.40L288.15 212.57L288.45 212.67L288.75 212.70L289.05 212.67L289.35 212.57L289.64 212.40L289.93 212.17L290.20 211.89L290.45 211.56L290.69 211.19L290.92 210.78L291.12 210.34L291.31 209.89L291.48 209.43L291.64 208.98L291.79 208.53L291.92 208.11L292.05 207.72L292.17 207.36L292.29 207.05L292.42 206.79L292.54 206.59L292.68 206.44L292.82 206.35L292.98 206.33L293.16 206.37L293.35 206.46L293.56 206.62L293.79 206.82L294.04 207.07L294.31 207.36L294.61 207.68L294.92 208.02L295.26 208.37L295.61 208.73L295.97 209.09L296.35 209.43L296.73 209.74L297.12 210.03L297.51 210.27L297.89 210.47L298.27 210.62L298.63 210.71L298.97 210.74L299.30 210.71L299.59 210.61L299.86 210.46L300.09 210.25L300.30 209.98L300.46 209.66L300.59 209.30L300.69 208.90L300.75 208.47L300.79 208.01L300.79 207.54L300.78 207.06L300.75 206.58L300.71 206.11L300.66 205.66L300.61 205.24L300.57 204.84L300.54 204.48L300.53 204.16L300.54 203.88L300.59 203.66L300.66 203.48L300.77 203.35L300.92 203.27L301.11 203.24L301.35 203.26L301.62 203.31L301.94 203.41L302.29 203.53L302.68 203.68L303.10 203.84L303.55 204.02L304.02 204.19L304.51 204.37L305.00 204.53L305.50 204.67L306.00 204.78L306.49 204.87L306.96 204.91L307.40 204.92L307.81 204.88L308.19 204.79L308.52 204.66L308.81 204.49L309.04 204.26L309.22 204.00L309.35 203.70L309.42 203.36L309.43 202.99L309.40 202.60L309.32 202.18L309.19 201.76L309.03 201.32L308.84 200.89L308.62 200.46L308.39 200.03L308.16 199.62L307.93 199.23L307.71 198.86L307.51 198.52L307.33 198.20L307.19 197.92L307.10 197.66L307.05 197.43L307.05 197.24L307.11 197.07L307.22 196.93L307.39 196.81L307.61 196.72L307.89 196.64L308.22 196.58L308.60 196.53L309.02 196.48L309.48 196.44L309.96 196.39L310.46 196.33L310.98 196.26L311.49 196.18L312.00 196.07L312.49 195.94L312.95 195.79L313.38 195.61L313.77 195.40L314.11 195.17L314.40 194.91L314.62 194.63L314.78 194.33L314.87 194.02L314.90 193.68L314.86 193.34L314.75 192.99L314.58 192.64L314.35 192.29L314.08 191.94L313.76 191.60L313.40 191.27L313.02 190.96L312.62 190.65L312.21 190.36L311.81 190.09L311.41 189.83L311.04 189.59L310.70 189.36L310.39 189.15L310.13 188.94L309.93 188.75L309.77 188.56L309.68 188.38L309.65 188.20" stroke="#000" stroke-width="1.45" fill="none" stroke-linejoin="miter" stroke-linecap="butt"/>
<path d="M294.51 188.20L294.82 188.10L295.17 188.00L295.54 187.91L295.93 187.83L296.34 187.76L296.77 187.70L297.20 187.64L297.63 187.58L298.05 187.51L298.46 187.44L298.86 187.36L299.23 187.28L299.57 187.18L299.88 187.07L300.15 186.95L300.39 186.82L300.57 186.68L300.71 186.54L300.81 186.38L300.85 186.23L300.84 186.07L300.78 185.91L300.67 185.76L300.51 185.61L300.31 185.48L300.06 185.35L299.77 185.24L299.45 185.13L299.10 185.04L298.72 184.96L298.32 184.88L297.90 184.81L297.47 184.75L297.04 184.69L296.61 184.63L296.19 184.56L295.79 184.49L295.40 184.41L295.04 184.32L294.71 184.22L294.41 184.11L294.15 183.98L293.94 183.85L293.77 183.70L293.65 183.55L293.57 183.40L293.55 183.24L293.58 183.08L293.66 182.93L293.78 182.78L293.96 182.64L294.18 182.50L294.44 182.38L294.74 182.27L295.08 182.17L295.44 182.08L295.83 182.00L296.24 181.93L296.66 181.87L297.09 181.80L297.52 181.74L297.95 181.68L298.36 181.61L298.76 181.53L299.14 181.45L299.49 181.36L299.81 181.25L300.09 181.14L300.33 181.01L300.53 180.87L300.68 180.72L300.79 180.57L300.84 180.42L300.85 180.26L300.80 180.10L300.70 179.95L300.56 179.80L300.36 179.66L300.13 179.53L299.85 179.41L299.53 179.31L299.19 179.21L298.81 179.13L298.42 179.05L298.00 178.98L297.58 178.92L297.15 178.86L296.72 178.79L296.30 178.73L295.89 178.66L295.50 178.58L295.13 178.49L294.79 178.39L294.48 178.28L294.21 178.16L293.99 178.03L293.81 177.89L293.67 177.74L293.59 177.59L293.55 177.43L293.57 177.27L293.63 177.12L293.75 176.97L293.91 176.82L294.12 176.69L294.37 176.56L294.67 176.45L294.99 176.35L295.35 176.25L295.73 176.17L296.14 176.10L296.56 176.03L296.98 175.97L297.41 175.91L297.84 175.84L298.26 175.78L298.66 175.70L299.05 175.62L299.40 175.53L299.73 175.43L300.02 175.31L300.28 175.19L300.49 175.05L300.65 174.91L300.77 174.76L300.83 174.60L300.85 174.45L300.81 174.29L300.73 174.13L300.60 173.99L300.41 173.84L300.19 173.71L299.92 173.59L299.62 173.48L299.28 173.38L298.91 173.30L298.52 173.22L298.11 173.15L297.68 173.08L297.26 173.02L296.83 172.96L296.40 172.89L295.99 172.83L295.59 172.75L295.22 172.66L294.87 172.57L294.55 172.46L294.28 172.34L294.04 172.22L293.85 172.08L293.70 171.93L293.60 171.78L293.55 171.62L293.56 171.46L293.61 171.31L293.72 171.15L293.87 171.01L294.07 170.87L294.31 170.74L294.59 170.62L294.91 170.52L295.26 170.43L295.64 170.34L296.04 170.27L296.45 170.20L296.88 170.13L297.31 170.07L297.74 170.01L298.16 169.94L298.56 169.87L298.95 169.79L299.32 169.70L299.65 169.61L299.95 169.49L300.22 169.37L300.44 169.24L300.61 169.10L300.74 168.95L300.82 168.79L300.85 168.64L300.83 168.48L300.76 168.32L300.63 168.17L300.46 168.03L300.25 167.89L299.99 167.77L299.69 167.66L299.36 167.56L299.00 167.47L298.62 167.39L298.21 167.31L297.79 167.25L297.36 167.19L296.93 167.12L296.50 167.06L296.09 166.99L295.69 166.92L295.31 166.84L294.95 166.74L294.63 166.64L294.34 166.52L294.09 166.40L293.89 166.26L293.73 166.12L293.62 165.96L293.56 165.81L293.55 165.65L293.59 165.49L293.68 165.34L293.83 165.19L294.01 165.05L294.24 164.92L294.52 164.80L294.83 164.69L295.17 164.60L295.54 164.51L295.93 164.43L296.35 164.36L296.77 164.30L297.20 164.24L297.20 162.70" stroke="#000" stroke-width="1.45" fill="none" stroke-linejoin="miter" stroke-linecap="butt"/>
<path d="M297.30 162.60L292.90 155.60H301.70Z" stroke="#000" stroke-width="1.35" fill="#fff" stroke-linejoin="miter" stroke-linecap="butt"/>
<circle cx="238.7" cy="188.2" r="3.5" fill="#000"/>
<circle cx="267.7" cy="188.2" r="3.5" fill="#000"/>
<circle cx="280.9" cy="188.2" r="3.5" fill="#000"/>
<circle cx="297.2" cy="188.2" r="3.5" fill="#000"/>
<circle cx="309.8" cy="188.2" r="3.5" fill="#000"/>
<g transform="translate(227.1 246.8)"><circle cx="0" cy="0" r="16.5" fill="#2a2ab0"/><circle cx="13.09" cy="8.67" r="3.0" fill="url(#gb)"/><circle cx="-15.61" cy="1.71" r="3.0" fill="url(#gr)"/><circle cx="-13.49" cy="-8.04" r="3.0" fill="url(#gb)"/><circle cx="-13.99" cy="7.13" r="3.0" fill="url(#gr)"/><circle cx="15.69" cy="0.53" r="3.0" fill="url(#gb)"/><circle cx="-14.56" cy="-5.86" r="3.0" fill="url(#gr)"/><circle cx="-14.94" cy="4.83" r="3.0" fill="url(#gb)"/><circle cx="-15.57" cy="-1.98" r="3.0" fill="url(#gb)"/><circle cx="14.60" cy="-5.78" r="3.0" fill="url(#gr)"/><circle cx="10.34" cy="11.82" r="3.0" fill="url(#gr)"/><circle cx="15.42" cy="2.97" r="3.0" fill="url(#gb)"/><circle cx="15.51" cy="-2.43" r="3.0" fill="url(#gr)"/><circle cx="-12.74" cy="9.18" r="3.0" fill="url(#gr)"/><circle cx="10.62" cy="-11.56" r="3.0" fill="url(#gb)"/><circle cx="6.25" cy="14.40" r="3.0" fill="url(#gb)"/><circle cx="-11.66" cy="-10.52" r="3.0" fill="url(#gb)"/><circle cx="-8.06" cy="13.47" r="3.0" fill="url(#gr)"/><circle cx="13.95" cy="7.21" r="3.0" fill="url(#gb)"/><circle cx="-0.96" cy="-15.67" r="3.0" fill="url(#gb)"/><circle cx="-4.30" cy="15.10" r="3.0" fill="url(#gb)"/><circle cx="0.48" cy="15.69" r="3.0" fill="url(#gr)"/><circle cx="-7.06" cy="-14.02" r="3.0" fill="url(#gr)"/><circle cx="14.00" cy="-7.10" r="3.0" fill="url(#gr)"/><circle cx="-10.45" cy="11.72" r="3.0" fill="url(#gr)"/><circle cx="5.81" cy="-14.58" r="3.0" fill="url(#gr)"/><circle cx="1.87" cy="-15.59" r="3.0" fill="url(#gb)"/><circle cx="11.60" cy="10.00" r="3.0" fill="url(#gb)"/><circle cx="-12.90" cy="6.60" r="3.0" fill="url(#gr)"/><circle cx="-12.90" cy="-5.70" r="3.0" fill="url(#gb)"/><circle cx="9.10" cy="-10.40" r="3.0" fill="url(#gr)"/><circle cx="-8.50" cy="-9.80" r="3.5" fill="url(#gr)"/><circle cx="0.30" cy="12.90" r="3.5" fill="url(#gr)"/><circle cx="-12.90" cy="-0.20" r="3.5" fill="url(#gb)"/><circle cx="12.90" cy="0.00" r="3.5" fill="url(#gb)"/><circle cx="4.70" cy="-12.00" r="3.5" fill="url(#gb)"/><circle cx="-5.40" cy="11.70" r="3.5" fill="url(#gb)"/><circle cx="11.00" cy="6.30" r="3.5" fill="url(#gr)"/><circle cx="-1.60" cy="-12.00" r="3.5" fill="url(#gr)"/><circle cx="10.30" cy="-6.30" r="3.5" fill="url(#gb)"/><circle cx="5.30" cy="10.70" r="3.5" fill="url(#gr)"/><circle cx="11.60" cy="1.40" r="3.5" fill="url(#gb)"/><circle cx="-6.00" cy="7.90" r="3.5" fill="url(#gb)"/><circle cx="-9.20" cy="3.20" r="3.5" fill="url(#gb)"/><circle cx="8.50" cy="-3.80" r="3.5" fill="url(#gr)"/><circle cx="5.30" cy="7.10" r="3.5" fill="url(#gb)"/><circle cx="8.50" cy="-0.70" r="3.5" fill="url(#gb)"/><circle cx="-7.60" cy="-2.90" r="3.5" fill="url(#gr)"/><circle cx="-2.90" cy="-7.30" r="3.9" fill="url(#gb)"/><circle cx="4.10" cy="-6.60" r="3.9" fill="url(#gb)"/><circle cx="-1.00" cy="6.60" r="3.9" fill="url(#gb)"/><circle cx="5.50" cy="2.40" r="3.9" fill="url(#gr)"/><circle cx="-3.50" cy="3.50" r="3.9" fill="url(#gr)"/><circle cx="0.50" cy="-1.30" r="3.9" fill="url(#gb)"/><circle cx="0" cy="0" r="18.9" fill="url(#gs)" clip-path="url(#nc)"/></g>
<g transform="translate(310.5 290.9)"><circle cx="0" cy="0" r="16.5" fill="#2a2ab0"/><circle cx="13.09" cy="8.67" r="3.0" fill="url(#gb)"/><circle cx="-15.61" cy="1.71" r="3.0" fill="url(#gr)"/><circle cx="-13.49" cy="-8.04" r="3.0" fill="url(#gb)"/><circle cx="-13.99" cy="7.13" r="3.0" fill="url(#gr)"/><circle cx="15.69" cy="0.53" r="3.0" fill="url(#gb)"/><circle cx="-14.56" cy="-5.86" r="3.0" fill="url(#gr)"/><circle cx="-14.94" cy="4.83" r="3.0" fill="url(#gb)"/><circle cx="-15.57" cy="-1.98" r="3.0" fill="url(#gb)"/><circle cx="14.60" cy="-5.78" r="3.0" fill="url(#gr)"/><circle cx="10.34" cy="11.82" r="3.0" fill="url(#gr)"/><circle cx="15.42" cy="2.97" r="3.0" fill="url(#gb)"/><circle cx="15.51" cy="-2.43" r="3.0" fill="url(#gr)"/><circle cx="-12.74" cy="9.18" r="3.0" fill="url(#gr)"/><circle cx="10.62" cy="-11.56" r="3.0" fill="url(#gb)"/><circle cx="6.25" cy="14.40" r="3.0" fill="url(#gb)"/><circle cx="-11.66" cy="-10.52" r="3.0" fill="url(#gb)"/><circle cx="-8.06" cy="13.47" r="3.0" fill="url(#gr)"/><circle cx="13.95" cy="7.21" r="3.0" fill="url(#gb)"/><circle cx="-0.96" cy="-15.67" r="3.0" fill="url(#gb)"/><circle cx="-4.30" cy="15.10" r="3.0" fill="url(#gb)"/><circle cx="0.48" cy="15.69" r="3.0" fill="url(#gr)"/><circle cx="-7.06" cy="-14.02" r="3.0" fill="url(#gr)"/><circle cx="14.00" cy="-7.10" r="3.0" fill="url(#gr)"/><circle cx="-10.45" cy="11.72" r="3.0" fill="url(#gr)"/><circle cx="5.81" cy="-14.58" r="3.0" fill="url(#gr)"/><circle cx="1.87" cy="-15.59" r="3.0" fill="url(#gb)"/><circle cx="11.60" cy="10.00" r="3.0" fill="url(#gb)"/><circle cx="-12.90" cy="6.60" r="3.0" fill="url(#gr)"/><circle cx="-12.90" cy="-5.70" r="3.0" fill="url(#gb)"/><circle cx="9.10" cy="-10.40" r="3.0" fill="url(#gr)"/><circle cx="-8.50" cy="-9.80" r="3.5" fill="url(#gr)"/><circle cx="0.30" cy="12.90" r="3.5" fill="url(#gr)"/><circle cx="-12.90" cy="-0.20" r="3.5" fill="url(#gb)"/><circle cx="12.90" cy="0.00" r="3.5" fill="url(#gb)"/><circle cx="4.70" cy="-12.00" r="3.5" fill="url(#gb)"/><circle cx="-5.40" cy="11.70" r="3.5" fill="url(#gb)"/><circle cx="11.00" cy="6.30" r="3.5" fill="url(#gr)"/><circle cx="-1.60" cy="-12.00" r="3.5" fill="url(#gr)"/><circle cx="10.30" cy="-6.30" r="3.5" fill="url(#gb)"/><circle cx="5.30" cy="10.70" r="3.5" fill="url(#gr)"/><circle cx="11.60" cy="1.40" r="3.5" fill="url(#gb)"/><circle cx="-6.00" cy="7.90" r="3.5" fill="url(#gb)"/><circle cx="-9.20" cy="3.20" r="3.5" fill="url(#gb)"/><circle cx="8.50" cy="-3.80" r="3.5" fill="url(#gr)"/><circle cx="5.30" cy="7.10" r="3.5" fill="url(#gb)"/><circle cx="8.50" cy="-0.70" r="3.5" fill="url(#gb)"/><circle cx="-7.60" cy="-2.90" r="3.5" fill="url(#gr)"/><circle cx="-2.90" cy="-7.30" r="3.9" fill="url(#gb)"/><circle cx="4.10" cy="-6.60" r="3.9" fill="url(#gb)"/><circle cx="-1.00" cy="6.60" r="3.9" fill="url(#gb)"/><circle cx="5.50" cy="2.40" r="3.9" fill="url(#gr)"/><circle cx="-3.50" cy="3.50" r="3.9" fill="url(#gr)"/><circle cx="0.50" cy="-1.30" r="3.9" fill="url(#gb)"/><circle cx="0" cy="0" r="18.9" fill="url(#gs)" clip-path="url(#nc)"/></g>
<path d="M294.5 276.6Q281.70 291.0 294.5 305.4" stroke="#000" stroke-width="3.4" fill="none" stroke-linecap="round"/>
<path d="M286.7 278.0Q278.70 291.0 286.7 304.0" stroke="#6c6c6c" stroke-width="2.6" fill="none" stroke-linecap="round"/>
<path d="M281.1 279.4Q275.90 291.0 281.1 302.6" stroke="#b0b0b0" stroke-width="2.0" fill="none" stroke-linecap="round"/>
<path d="M326.5 276.6Q339.30 291.0 326.5 305.4" stroke="#000" stroke-width="3.4" fill="none" stroke-linecap="round"/>
<path d="M334.3 278.0Q342.30 291.0 334.3 304.0" stroke="#6c6c6c" stroke-width="2.6" fill="none" stroke-linecap="round"/>
<path d="M339.9 279.4Q345.10 291.0 339.9 302.6" stroke="#b0b0b0" stroke-width="2.0" fill="none" stroke-linecap="round"/>
<rect x="5.5" y="153.3" width="74.9" height="25.2" fill="#6d7fd9" stroke="#000" stroke-width="1.4"/>
<rect x="5.5" y="178.5" width="74.9" height="25.7" fill="#e6dc52" stroke="#000" stroke-width="1.4"/>
<text x="534.40" y="37.8" font-family="Liberation Sans, sans-serif" font-size="18.4" fill="#000" letter-spacing="0.275" >Dirac</text>
<text x="534.30" y="88.9" font-family="Liberation Sans, sans-serif" font-size="18.4" fill="#000" letter-spacing="0.000" >Free QED</text>
<text x="533.70" y="138.8" font-family="Liberation Sans, sans-serif" font-size="18.4" fill="#000" letter-spacing="0.553" >One-loop binding</text>
<text x="535.80" y="192.0" font-family="Liberation Sans, sans-serif" font-size="18.4" fill="#000" letter-spacing="0.630" >Two-loop binding</text>
<text x="534.20" y="246.3" font-family="Liberation Sans, sans-serif" font-size="18.4" fill="#000" letter-spacing="0.350" >Nuclear size</text>
<text x="534.20" y="297.6" font-family="Liberation Sans, sans-serif" font-size="18.4" fill="#000" letter-spacing="0.395" >Nuclear mass</text>
<text x="350.40" y="25.6" font-family="Liberation Sans, sans-serif" font-size="18.4" fill="#fff" letter-spacing="0.288" >1,908,079,205</text>
<text x="386.80" y="78.1" font-family="Liberation Sans, sans-serif" font-size="18.4" fill="#fff" letter-spacing="0.394" >2,319,304</text>
<text x="404.30" y="130.2" font-family="Liberation Sans, sans-serif" font-size="18.4" fill="#fff" letter-spacing="0.133" >148,804</text>
<text x="471.75" y="130.2" font-family="Liberation Sans, sans-serif" font-size="18.4" fill="#fff" letter-spacing="-0.650" >(5)</text>
<text x="439.60" y="182.2" font-family="Liberation Sans, sans-serif" font-size="18.4" fill="#fff" letter-spacing="0.400" >705</text>
<text x="470.95" y="182.2" font-family="Liberation Sans, sans-serif" font-size="18.4" fill="#fff" letter-spacing="-0.250" >(298)</text>
<text x="414.30" y="234.3" font-family="Liberation Sans, sans-serif" font-size="18.4" fill="#fff" letter-spacing="0.290" >14,489</text>
<text x="471.55" y="234.3" font-family="Liberation Sans, sans-serif" font-size="18.4" fill="#fff" letter-spacing="-0.350" >(24)</text>
<text x="440.80" y="286.5" font-family="Liberation Sans, sans-serif" font-size="18.4" fill="#fff" letter-spacing="0.725" >726</text>
<text x="59.95" y="350.9" font-family="Liberation Sans, sans-serif" font-size="18.4" fill="#000" letter-spacing="0.35">10</text>
<text x="79.95" y="344.7" font-family="Liberation Sans, sans-serif" font-size="14" fill="#000">9</text>
<text x="203.80" y="350.9" font-family="Liberation Sans, sans-serif" font-size="18.4" fill="#000" letter-spacing="0.35">10</text>
<text x="224.50" y="344.7" font-family="Liberation Sans, sans-serif" font-size="14" fill="#000">6</text>
<text x="349.75" y="350.9" font-family="Liberation Sans, sans-serif" font-size="18.4" fill="#000" letter-spacing="0.35">10</text>
<text x="369.75" y="344.7" font-family="Liberation Sans, sans-serif" font-size="14" fill="#000">3</text>
<text x="503.20" y="350.9" font-family="Liberation Sans, sans-serif" font-size="18.4" fill="#000">1</text>
<text x="178.50" y="376.6" font-family="Liberation Sans, sans-serif" font-size="18.4" fill="#000" letter-spacing="0.000" font-style="italic">g</text>
<text x="190.15" y="376.6" font-family="Liberation Sans, sans-serif" font-size="18.4" fill="#000" letter-spacing="0.000" >-</text>
<text x="195.95" y="376.6" font-family="Liberation Sans, sans-serif" font-size="18.4" fill="#000" letter-spacing="0.840" >factor</text>
<text x="251.25" y="376.6" font-family="Liberation Sans, sans-serif" font-size="18.4" fill="#000" letter-spacing="0.632" >contribution</text>
<text x="358.65" y="376.6" font-family="Liberation Sans, sans-serif" font-size="18.4" fill="#000" letter-spacing="0.650" >(×10</text>
<text x="397.45" y="370.6" font-family="Liberation Sans, sans-serif" font-size="14" fill="#000" letter-spacing="0.000" >9</text>
<text x="404.25" y="376.6" font-family="Liberation Sans, sans-serif" font-size="18.4" fill="#000" letter-spacing="0.000" >)</text>
<text x="83.40" y="259.8" font-family="Liberation Sans, sans-serif" font-size="18.4" fill="#000" letter-spacing="0.217" >Nuclear</text>
<text x="83.45" y="283.9" font-family="Liberation Sans, sans-serif" font-size="18.4" fill="#000" letter-spacing="0.583" >effects</text>
<text x="10.20" y="167.9" font-family="Liberation Sans, sans-serif" font-size="13.5" fill="#fff" letter-spacing="-0.200" >118</text>
<text x="31.00" y="173.7" font-family="Liberation Sans, sans-serif" font-size="19.3" fill="#fff" letter-spacing="0.650" >Sn</text>
<text x="54.75" y="167.9" font-family="Liberation Sans, sans-serif" font-size="13.5" fill="#fff" letter-spacing="-0.300" >49+</text>
<text x="16.05" y="192.8" font-family="Liberation Sans, sans-serif" font-size="13.5" fill="#000" letter-spacing="0.350" >28</text>
<text x="31.50" y="199.3" font-family="Liberation Sans, sans-serif" font-size="19.3" fill="#000" letter-spacing="0.250" >Si</text>
<text x="48.90" y="192.8" font-family="Liberation Sans, sans-serif" font-size="13.5" fill="#000" letter-spacing="-0.175" >13+</text>
<rect x="351.20" y="23.33" width="3.78" height="2.87" fill="#6d7fd9"/><rect x="356.70" y="23.33" width="3.68" height="2.87" fill="#6d7fd9"/><rect x="414.34" y="75.83" width="3.78" height="2.87" fill="#6d7fd9"/><rect x="419.84" y="75.83" width="3.68" height="2.87" fill="#6d7fd9"/><rect x="405.10" y="127.93" width="3.78" height="2.87" fill="#6d7fd9"/><rect x="410.60" y="127.93" width="3.68" height="2.87" fill="#6d7fd9"/><rect x="415.10" y="232.03" width="3.78" height="2.87" fill="#6d7fd9"/><rect x="420.60" y="232.03" width="3.68" height="2.87" fill="#6d7fd9"/><rect x="60.75" y="348.63" width="3.78" height="2.87" fill="#fff"/><rect x="66.25" y="348.63" width="3.68" height="2.87" fill="#fff"/><rect x="204.60" y="348.63" width="3.78" height="2.87" fill="#fff"/><rect x="210.10" y="348.63" width="3.68" height="2.87" fill="#fff"/><rect x="350.55" y="348.63" width="3.78" height="2.87" fill="#fff"/><rect x="356.05" y="348.63" width="3.68" height="2.87" fill="#fff"/><rect x="504.00" y="348.63" width="3.78" height="2.87" fill="#fff"/><rect x="509.50" y="348.63" width="3.68" height="2.87" fill="#fff"/><rect x="377.61" y="374.33" width="3.78" height="2.87" fill="#fff"/><rect x="383.11" y="374.33" width="3.68" height="2.87" fill="#fff"/><rect x="10.63" y="165.99" width="2.92" height="2.51" fill="#6d7fd9"/><rect x="14.84" y="165.99" width="2.86" height="2.51" fill="#6d7fd9"/><rect x="16.93" y="165.99" width="2.92" height="2.51" fill="#6d7fd9"/><rect x="21.13" y="165.99" width="2.86" height="2.51" fill="#6d7fd9"/><rect x="49.33" y="190.89" width="2.92" height="2.51" fill="#e6dc52"/><rect x="53.54" y="190.89" width="2.86" height="2.51" fill="#e6dc52"/>
</svg>
</body></html>
